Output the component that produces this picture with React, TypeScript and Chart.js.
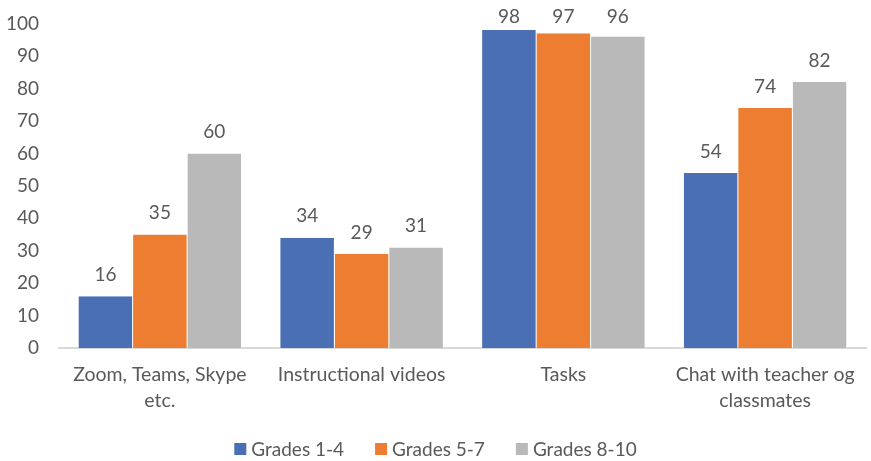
import React, { useEffect, useRef } from "react";
import { Chart, registerables } from "chart.js";

Chart.register(...registerables);

const categories: (string | string[])[] = [
  ["Zoom, Teams, Skype", "etc."],
  "Instructional videos",
  "Tasks",
  ["Chat with teacher og", "classmates"],
];
const seriesNames = ["Grades 1-4", "Grades 5-7", "Grades 8-10"];
const grades14 = [16, 34, 98, 54];
const grades57 = [35, 29, 97, 74];
const grades810 = [60, 31, 96, 82];
const colors = ["#4a6fb5", "#ed7d31", "#b9b9b9"];

const FONT = "Lato, 'Open Sans', sans-serif";
const TEXT = "#595959";
const FS = 19;
const SHIFT = 8;

const labelPlugin = {
  id: "valueLabels",
  afterDatasetsDraw(chart: any) {
    const ctx = chart.ctx;
    ctx.save();
    ctx.font = `${FS}px ${FONT}`;
    ctx.fillStyle = TEXT;
    ctx.textAlign = "center";
    ctx.textBaseline = "bottom";
    chart.data.datasets.forEach((ds: any, i: number) => {
      const meta = chart.getDatasetMeta(i);
      meta.data.forEach((bar: any, j: number) => {
        let y = bar.y - 12;
        if (y < 26 + SHIFT) y = 26 + SHIFT;
        ctx.fillText(String(ds.data[j]), bar.x, y);
      });
    });
    ctx.restore();
  },
};

const legendPlugin = {
  id: "bottomLegend",
  afterDraw(chart: any) {
    const ctx = chart.ctx;
    ctx.save();
    ctx.font = `${FS}px ${FONT}`;
    ctx.textBaseline = "middle";
    ctx.textAlign = "left";
    const box = 12;
    const gapText = 5;
    const gapItem = 31;
    const items = chart.data.datasets.map((ds: any) => ({
      label: ds.label,
      color: ds.backgroundColor,
      w: box + gapText + ctx.measureText(ds.label).width,
    }));
    const total = items.reduce((a: number, it: any) => a + it.w, 0) + gapItem * (items.length - 1);
    let x = (chart.width - total) / 2;
    const y = 449 + SHIFT;
    items.forEach((it: any) => {
      ctx.fillStyle = it.color;
      ctx.fillRect(x, y - box / 2, box, box);
      ctx.fillStyle = TEXT;
      ctx.fillText(it.label, x + box + gapText, y + 1);
      x += it.w + gapItem;
    });
    ctx.restore();
  },
};

export default function App() {
  const ref = useRef<HTMLCanvasElement>(null);
  useEffect(() => {
    if (!ref.current) return;
    const data = [grades14, grades57, grades810];
    const chart = new Chart(ref.current, {
      type: "bar",
      data: {
        labels: categories,
        datasets: seriesNames.map((n, i) => ({
          label: n,
          data: data[i],
          backgroundColor: colors[i],
          borderColor: "#ffffff",
          borderWidth: { left: 0.5, right: 0.5, top: 0, bottom: 0 } as any,
          borderSkipped: false,
          categoryPercentage: 0.81,
          barPercentage: 1,
        })),
      },
      options: {
        animation: false,
        responsive: false,
        maintainAspectRatio: false,
        layout: { padding: { top: 0, right: 5, left: 6, bottom: 34 } },
        plugins: {
          legend: { display: false },
          tooltip: { enabled: false },
        },
        scales: {
          x: {
            grid: { display: false, drawTicks: false },
            border: { color: "#d9d9d9", width: 2 },
            ticks: {
              color: TEXT,
              font: { family: FONT, size: 19.5, lineHeight: 1.35 },
              padding: 13,
              maxRotation: 0,
              autoSkip: false,
            },
          },
          y: {
            min: 0,
            max: 100,
            grid: { display: false, drawTicks: false },
            border: { display: false },
            afterFit: (s: any) => {
              s.width = 53;
            },
            ticks: {
              stepSize: 10,
              color: TEXT,
              font: { family: FONT, size: FS },
              padding: 20,
            },
          },
        },
      },
      plugins: [labelPlugin, legendPlugin],
    });
    return () => chart.destroy();
  }, []);
  return (
    <div style={{ position: "fixed", left: 0, top: 0, width: 871, height: 461, overflow: "hidden", background: "#fff" }}>
      <canvas ref={ref} width={871} height={461 + SHIFT} style={{ position: "absolute", left: 0, top: -SHIFT }} />
    </div>
  );
}
